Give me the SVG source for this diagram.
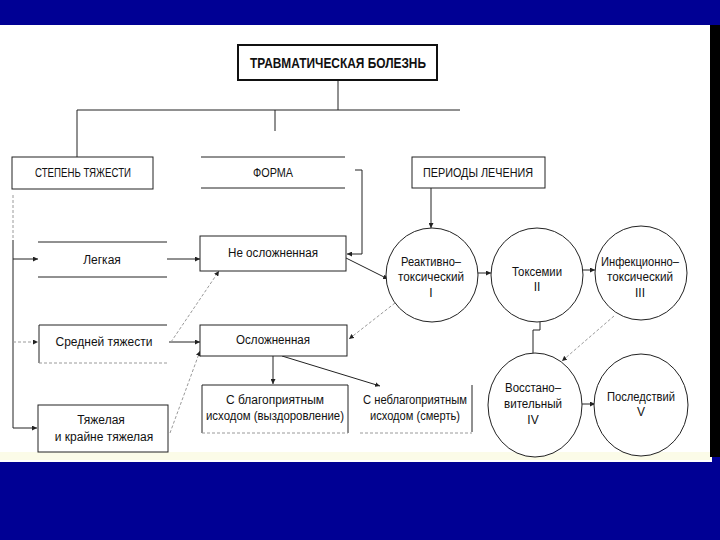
<svg xmlns="http://www.w3.org/2000/svg" width="720" height="540" viewBox="0 0 720 540">
<style>
text{font-family:"Liberation Sans",Arial,sans-serif;font-size:12px;fill:#111;text-anchor:middle}
.title{font-size:15px;font-weight:bold}
.box{fill:#fff;stroke:#222;stroke-width:1}
.tbox{fill:#fff;stroke:#111;stroke-width:2}
.ln{fill:none;stroke:#222;stroke-width:1}
.dot{fill:none;stroke:#9a9a9a;stroke-width:1;stroke-dasharray:3 2}
.circ{fill:#fff;stroke:#222;stroke-width:1}
.arr{marker-end:url(#ah)}
</style>
<defs>
<marker id="ah" viewBox="0 0 6 6" refX="6" refY="3" markerWidth="5" markerHeight="5" orient="auto" markerUnits="userSpaceOnUse"><path d="M0,0 L6,3 L0,6 z" fill="#222"/></marker>
</defs>
<rect width="720" height="540" fill="#000094"/>
<rect x="0" y="25" width="712" height="437" fill="#fff"/>
<rect x="0" y="452" width="712" height="8" fill="#fbfbe8"/>
<rect x="710" y="25" width="10" height="432" fill="#000"/>

<g id="connectors">
<path class="ln" d="M338,80 V110"/>
<path class="ln" d="M77,110 H460"/>
<path class="ln" d="M77,110 V157"/>
<path class="ln" d="M275,110 V131"/>
<path class="ln arr" d="M355,170 H362 V254 H347"/>
<path class="ln arr" d="M431,188 V228"/>
<path class="dot" d="M13,195 V240"/>
<path class="ln" d="M13,240 V428"/>
<path class="ln arr" d="M13,259 H38"/>
<path class="dot arr" d="M13,342 H38"/>
<path class="ln arr" d="M13,428 H37"/>
<path class="ln arr" d="M167,259 H200"/>
<path class="ln arr" d="M169,342 H200"/>
<path class="dot arr" d="M171,342 L219,271"/>
<path class="dot arr" d="M170,433 L200,351"/>
<path class="ln arr" d="M273,356 V384"/>
<path class="ln arr" d="M282,356 L380,386"/>
<path class="ln arr" d="M346,258 L388,279"/>
<path class="dot arr" d="M395,303 L349,339"/>
<path class="ln arr" d="M478,273 H491"/>
<path class="ln arr" d="M583,270 H595"/>
<path class="ln" d="M540,322 V330 H533 V353"/>
<path class="dot arr" d="M614,316 L562,361"/>
<path class="ln arr" d="M582,404 H595"/>
</g>

<g id="title">
<rect class="tbox" x="238" y="45" width="199" height="35"/>
<text class="title" x="338" y="68" textLength="176" lengthAdjust="spacingAndGlyphs">ТРАВМАТИЧЕСКАЯ БОЛЕЗНЬ</text>
</g>
<g id="stepen">
<rect class="box" x="12" y="157" width="141" height="32"/>
<text x="83" y="177" textLength="96" lengthAdjust="spacingAndGlyphs">СТЕПЕНЬ ТЯЖЕСТИ</text>
</g>
<g id="forma">
<path class="ln" d="M201,157 H345 M201,188 H345"/>
<text x="273" y="177" textLength="40" lengthAdjust="spacingAndGlyphs">ФОРМА</text>
</g>
<g id="periody">
<rect class="box" x="412" y="157" width="133" height="31"/>
<text x="478" y="177" textLength="110" lengthAdjust="spacingAndGlyphs">ПЕРИОДЫ ЛЕЧЕНИЯ</text>
</g>
<g id="legkaya">
<path class="ln" d="M38,242 H167 M38,277 H167"/>
<text x="102" y="264">Легкая</text>
</g>
<g id="srednyaya">
<path class="ln" d="M39,325 H167 M39,325 V363"/>
<path class="dot" d="M39,363 H167"/>
<text x="104" y="346">Средней тяжести</text>
</g>
<g id="tyazhelaya">
<rect class="box" x="38" y="405" width="130" height="47"/>
<text x="101" y="424">Тяжелая</text>
<text x="104" y="441">и крайне тяжелая</text>
</g>
<g id="neoslozh">
<rect class="box" x="200" y="236" width="146" height="35"/>
<text x="273" y="257" textLength="90" lengthAdjust="spacingAndGlyphs">Не осложненная</text>
</g>
<g id="oslozh">
<rect class="box" x="200" y="325" width="147" height="31"/>
<text x="273" y="344" textLength="74" lengthAdjust="spacingAndGlyphs">Осложненная</text>
</g>
<g id="blago">
<path class="ln" d="M202,433 V385 H348 V433"/>
<path class="dot" d="M202,433 H348"/>
<text x="275" y="404" textLength="98" lengthAdjust="spacingAndGlyphs">С благоприятным</text>
<text x="275" y="420" textLength="138" lengthAdjust="spacingAndGlyphs">исходом (выздоровление)</text>
</g>
<g id="neblago">
<path class="ln" d="M472,385 V432"/>
<path class="dot" d="M360,433 H472"/>
<text x="415" y="404" textLength="104" lengthAdjust="spacingAndGlyphs">С неблагоприятным</text>
<text x="415" y="420" textLength="90" lengthAdjust="spacingAndGlyphs">исходом (смерть)</text>
</g>
<g id="period1">
<ellipse class="circ" cx="432" cy="275" rx="46" ry="47"/>
<text x="431" y="266" textLength="60" lengthAdjust="spacingAndGlyphs">Реактивно–</text>
<text x="431" y="281" textLength="66" lengthAdjust="spacingAndGlyphs">токсический</text>
<text x="431" y="297">I</text>
</g>
<g id="period2">
<ellipse class="circ" cx="537" cy="275" rx="46" ry="47"/>
<text x="537" y="276" textLength="50" lengthAdjust="spacingAndGlyphs">Токсемии</text>
<text x="537" y="291">II</text>
</g>
<g id="period3">
<ellipse class="circ" cx="641" cy="273" rx="46" ry="47"/>
<text x="640" y="266" textLength="78" lengthAdjust="spacingAndGlyphs">Инфекционно–</text>
<text x="640" y="281" textLength="66" lengthAdjust="spacingAndGlyphs">токсический</text>
<text x="640" y="297">III</text>
</g>
<g id="period4">
<ellipse class="circ" cx="535" cy="405" rx="47" ry="52"/>
<text x="533" y="392" textLength="56" lengthAdjust="spacingAndGlyphs">Восстано–</text>
<text x="533" y="408" textLength="58" lengthAdjust="spacingAndGlyphs">вительный</text>
<text x="533" y="424">IV</text>
</g>
<g id="period5">
<ellipse class="circ" cx="641" cy="405" rx="47" ry="51"/>
<text x="641" y="401" textLength="68" lengthAdjust="spacingAndGlyphs">Последствий</text>
<text x="641" y="416">V</text>
</g>
</svg>
